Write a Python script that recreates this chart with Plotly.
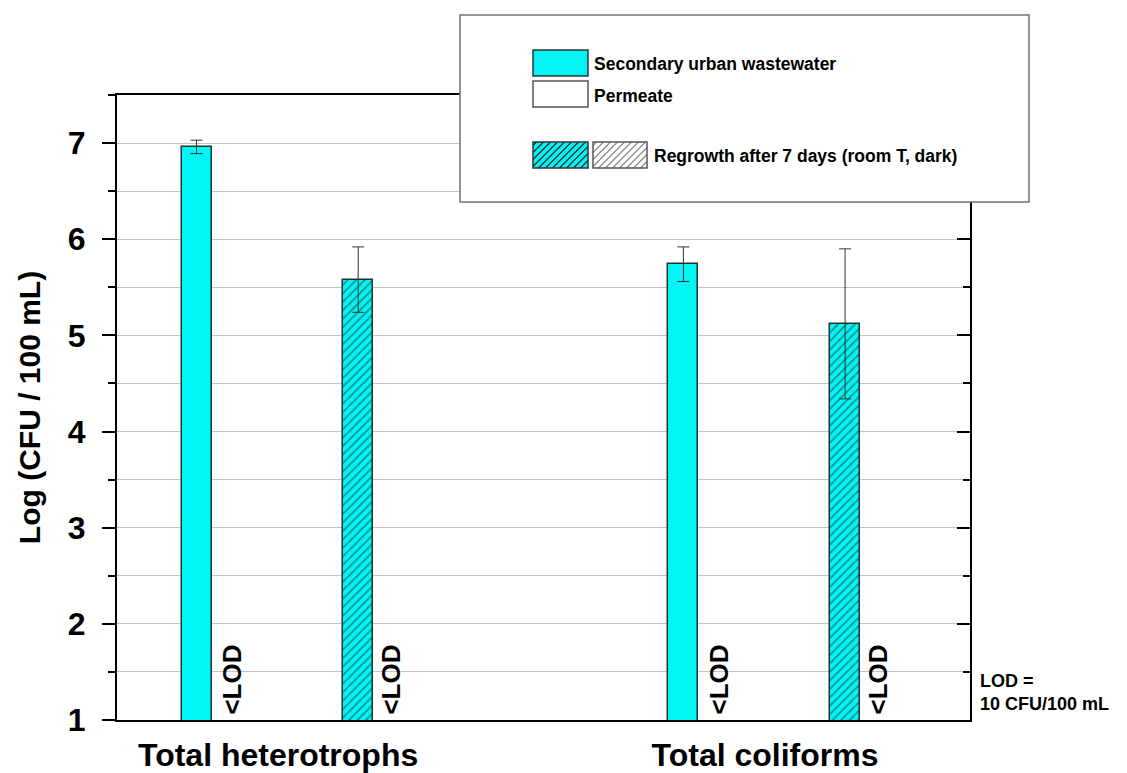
import plotly.graph_objects as go

# ---------------- data ----------------
categories = ["Total heterotrophs", "Total coliforms"]
suw_values = [6.96, 5.74]          # Secondary urban wastewater
suw_errors = [0.07, 0.18]
regrowth_suw_values = [5.58, 5.12]  # Regrowth after 7 days (SUW)
regrowth_suw_errors = [0.34, 0.78]
permeate_labels = ["<LOD", "<LOD"]           # Permeate: below limit of detection
regrowth_permeate_labels = ["<LOD", "<LOD"]  # Regrowth of permeate: below LOD
y_ticks = [1, 2, 3, 4, 5, 6, 7]
legend_labels = ["Secondary urban wastewater", "Permeate", "Regrowth after 7 days (room T, dark)"]
lod_note = "LOD =<br>10 CFU/100 mL"

# ---------------- layout helpers ----------------
W, H = 1127, 773
ML, MR, MT, MB = 117, 157, 95, 53
PW, PH = W - ML - MR, H - MT - MB
BOTTOM = MT + PH
CYAN = "#00F5F5"
FONT = "Liberation Sans, Arial, sans-serif"

group_x = [5.37, 21.6]
off_suw, off_perm, off_rsuw, off_rperm = -2.72, -1.55, 2.67, 3.75
bar_w = 1.0


def px(x):
    return (x - ML) / PW


def py(y):
    return (BOTTOM - y) / PH


fig = go.Figure()

fig.add_trace(go.Bar(
    x=[g + off_suw for g in group_x], y=suw_values, width=bar_w,
    marker=dict(color=CYAN, line=dict(color="#1c3434", width=1.5)),
    error_y=dict(type="data", array=suw_errors, color="#333333", thickness=1, width=6),
    showlegend=False, name=legend_labels[0],
))
fig.add_trace(go.Bar(
    x=[g + off_rsuw for g in group_x], y=regrowth_suw_values, width=bar_w,
    marker=dict(color=CYAN, line=dict(color="#1c3434", width=1.5),
                pattern=dict(shape="/", fgcolor="#1a2e2e", bgcolor=CYAN, size=6, solidity=0.3)),
    error_y=dict(type="data", array=regrowth_suw_errors, color="#333333", thickness=1, width=6),
    showlegend=False, name=legend_labels[2],
))
# invisible helper trace so the mirrored right axis is drawn
fig.add_trace(go.Scatter(x=[group_x[0]], y=[1], yaxis="y2", mode="markers",
                         marker=dict(opacity=0), showlegend=False, hoverinfo="skip"))

annotations = []
# <LOD labels for permeate
for g, t1, t2 in zip(group_x, permeate_labels, regrowth_permeate_labels):
    for xx, t in ((g + off_perm, t1), (g + off_rperm, t2)):
        annotations.append(dict(x=xx, y=1, xref="x", yref="y", text="<b>" + t.replace("<", "&lt;") + "</b>",
                                textangle=-90, showarrow=False, xanchor="center", yanchor="bottom",
                                yshift=3, font=dict(family=FONT, size=26, color="black")))

annotations.append(dict(x=px(978), y=py(692), xref="paper", yref="paper", text=f"<b>{lod_note}</b>",
                        showarrow=False, xanchor="left", yanchor="middle", align="left",
                        font=dict(family=FONT, size=18, color="black")))

# ---------------- manual legend ----------------
shapes = []
shapes.append(dict(type="rect", xref="paper", yref="paper", x0=px(460), x1=px(1029), y0=py(202), y1=py(15),
                   fillcolor="white", line=dict(color="#707070", width=1.5), layer="above"))
shapes.append(dict(type="rect", xref="paper", yref="paper", x0=px(533), x1=px(588), y0=py(76), y1=py(50),
                   fillcolor=CYAN, line=dict(color="#333333", width=1.5), layer="above"))
shapes.append(dict(type="rect", xref="paper", yref="paper", x0=px(533), x1=px(588), y0=py(107), y1=py(81),
                   fillcolor="white", line=dict(color="#555555", width=1.5), layer="above"))


def hatch_path(x0, y0, x1, y1, step):
    parts = []
    c = x0 + y0 + step / 2
    while c < x1 + y1:
        xs = max(x0, c - y1)
        xe = min(x1, c - y0)
        if xs < xe:
            parts.append(f"M{px(xs):.5f},{py(c - xs):.5f} L{px(xe):.5f},{py(c - xe):.5f}")
        c += step
    return " ".join(parts)


shapes.append(dict(type="rect", xref="paper", yref="paper", x0=px(533), x1=px(588), y0=py(168), y1=py(142),
                   fillcolor=CYAN, line=dict(width=0), layer="above"))
shapes.append(dict(type="path", xref="paper", yref="paper", path=hatch_path(533, 142, 588, 168, 7),
                   line=dict(color="#1a2e2e", width=1.2), layer="above"))
shapes.append(dict(type="rect", xref="paper", yref="paper", x0=px(533), x1=px(588), y0=py(168), y1=py(142),
                   fillcolor="rgba(0,0,0,0)", line=dict(color="#333333", width=1.5), layer="above"))
shapes.append(dict(type="path", xref="paper", yref="paper", path=hatch_path(593, 142, 647, 168, 7),
                   line=dict(color="#8a8a8a", width=1.2), layer="above"))
shapes.append(dict(type="rect", xref="paper", yref="paper", x0=px(593), x1=px(647), y0=py(168), y1=py(142),
                   fillcolor="rgba(0,0,0,0)", line=dict(color="#555555", width=1.5), layer="above"))

for txt, xx, yy in ((legend_labels[0], 592, 64), (legend_labels[1], 592, 96), (legend_labels[2], 652, 156)):
    annotations.append(dict(x=px(xx), y=py(yy), xref="paper", yref="paper", text=f"<b>{txt}</b>",
                            showarrow=False, xanchor="left", yanchor="middle",
                            font=dict(family=FONT, size=17.5, color="black")))

fig.update_layout(
    width=W, height=H,
    margin=dict(l=ML, r=MR, t=MT, b=MB, autoexpand=False),
    paper_bgcolor="white", plot_bgcolor="white",
    bargap=0, barmode="overlay",
    font=dict(family=FONT, color="black"),
    xaxis=dict(range=[0, PW / 30], tickvals=group_x, ticktext=categories, automargin=False,
               tickfont=dict(family=FONT, size=32, weight="bold", color="black"),
               showgrid=False, zeroline=False, showline=True, linecolor="black", linewidth=2,
               mirror=True, ticks="", ticklabelstandoff=6),
    yaxis=dict(range=[1, 7.5], tickvals=y_ticks, ticktext=[str(v) for v in y_ticks], automargin=False,
               tickfont=dict(family=FONT, size=32, weight="bold", color="black"),
               ticks="outside", ticklen=13, tickwidth=2, tickcolor="black", ticklabelstandoff=10,
               showline=True, linecolor="black", linewidth=2, zeroline=False,
               showgrid=True, gridcolor="#c4c4c4", gridwidth=1,
               minor=dict(dtick=0.5, tick0=0, ticks="outside", ticklen=7, tickwidth=2, tickcolor="black",
                          showgrid=True, gridcolor="#c4c4c4", gridwidth=1),
               title=dict(text="Log (CFU / 100 mL)", standoff=18,
                          font=dict(family=FONT, size=30, weight="bold", color="black"))),
    yaxis2=dict(range=[1, 7.5], overlaying="y", side="right", tickvals=y_ticks, showticklabels=False,
                ticks="inside", ticklen=13, tickwidth=2, tickcolor="black", automargin=False,
                showline=True, linecolor="black", linewidth=2, showgrid=False, zeroline=False,
                minor=dict(dtick=0.5, tick0=0, ticks="inside", ticklen=7, tickwidth=2, tickcolor="black",
                           showgrid=False)),
    shapes=shapes,
    annotations=annotations,
)

fig.write_html("out.html")
